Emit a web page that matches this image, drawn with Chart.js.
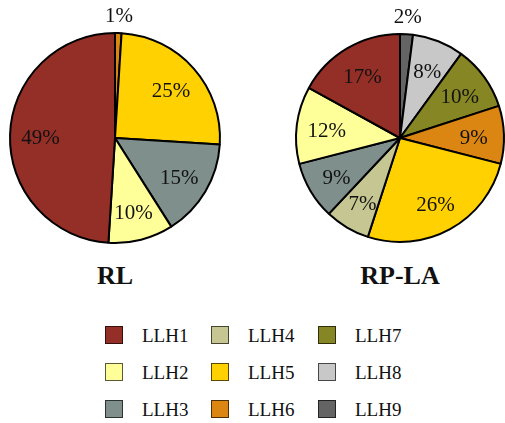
<!DOCTYPE html>
<html>
<head>
<meta charset="utf-8">
<script src="https://cdn.jsdelivr.net/npm/chart.js@4.4.0/dist/chart.umd.min.js"></script>
<style>
  html, body { margin: 0; padding: 0; background: #fff; overflow: hidden; }
  #wrap { position: relative; width: 505px; height: 423px; font-family: "Liberation Serif", serif; color: #111; }
  .pie { position: absolute; top: 0; }
  .title { position: absolute; top: 263px; width: 200px; text-align: center; font-weight: bold; font-size: 26px; line-height: 26px; }
  .lg-box { position: absolute; width: 16px; height: 16px; border: 1px solid rgba(0,0,0,0.65); }
  .lg-text { position: absolute; font-size: 19px; line-height: 19px; white-space: nowrap; }
</style>
</head>
<body>
<div id="wrap">
  <div class="pie" style="left:0; width:230px; height:250px;"><canvas id="chart0"></canvas></div>
  <div class="pie" style="left:290px; width:220px; height:250px;"><canvas id="chart1"></canvas></div>
  <div class="title" style="left:15px;">RL</div>
  <div class="title" style="left:300px;">RP-LA</div>
  <div id="legend"></div>
</div>
<script>
const categories = ['LLH1', 'LLH2', 'LLH3', 'LLH4', 'LLH5', 'LLH6', 'LLH7', 'LLH8', 'LLH9'];
const rlValues   = [49, 10, 15, 0, 25, 1, 0, 0, 0];
const rplaValues = [17, 12, 9, 7, 26, 9, 10, 8, 2];
const colors = [
  'rgb(147, 47, 39)',
  'rgb(255, 255, 153)',
  'rgb(127, 143, 140)',
  'rgb(197, 198, 145)',
  'rgb(255, 209, 0)',
  'rgb(219, 134, 18)',
  'rgb(134, 134, 36)',
  'rgb(200, 200, 200)',
  'rgb(100, 100, 100)'
];
const titles = ['RL', 'RP-LA'];

// the original runs counter-clockwise from the top, chart.js goes clockwise -> reverse
const rev = arr => arr.slice().reverse();

const pctLabels = {
  id: 'pctLabels',
  afterDatasetsDraw(chart) {
    const ctx = chart.ctx;
    const ds = chart.data.datasets[0];
    const total = ds.data.reduce((a, b) => a + b, 0);
    ctx.save();
    ctx.font = '21px "Liberation Serif", serif';
    ctx.fillStyle = '#111';
    ctx.textAlign = 'center';
    ctx.textBaseline = 'middle';
    chart.getDatasetMeta(0).data.forEach((arc, i) => {
      const v = ds.data[i];
      if (!v) return;
      const pct = Math.round(v / total * 100);
      const mid = (arc.startAngle + arc.endAngle) / 2;
      const r = pct < 5 ? arc.outerRadius + 20 : arc.outerRadius * 0.71;
      ctx.fillText(pct + '%', arc.x + Math.cos(mid) * r, arc.y + Math.sin(mid) * r + 3);
    });
    ctx.restore();
  }
};

function makePie(id, values, radius) {
  return new Chart(document.getElementById(id), {
    type: 'pie',
    data: {
      labels: rev(categories),
      datasets: [{
        data: rev(values),
        backgroundColor: rev(colors),
        borderColor: '#000',
        borderWidth: 2
      }]
    },
    options: {
      responsive: true,
      maintainAspectRatio: false,
      animation: false,
      radius: radius,
      layout: { padding: { top: 26 } },
      plugins: { legend: { display: false }, tooltip: { enabled: false } }
    },
    plugins: [pctLabels]
  });
}

makePie('chart0', rlValues, 105);
makePie('chart1', rplaValues, 104);

// legend, filled column by column
const legend = document.getElementById('legend');
const colX = [105, 211, 318];
const rowY = [335, 372, 409];
categories.forEach((name, i) => {
  const col = Math.floor(i / 3), row = i % 3;
  const box = document.createElement('div');
  box.className = 'lg-box';
  box.style.left = colX[col] + 'px';
  box.style.top = (rowY[row] - 9) + 'px';
  box.style.background = colors[i];
  legend.appendChild(box);
  const txt = document.createElement('div');
  txt.className = 'lg-text';
  txt.style.left = (colX[col] + 37) + 'px';
  txt.style.top = (rowY[row] - 9.5) + 'px';
  txt.textContent = name;
  legend.appendChild(txt);
});
</script>
</body>
</html>
